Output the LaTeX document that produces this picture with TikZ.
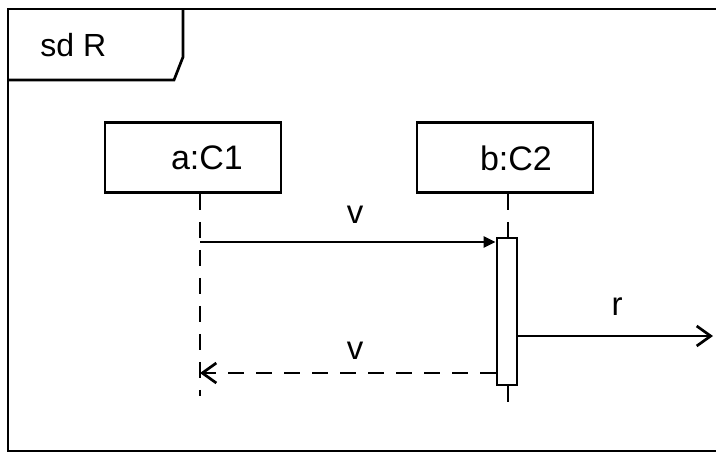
\documentclass[tikz,border=0pt]{standalone}
\usepackage{fontspec}
\setmainfont{Liberation Sans}
\usetikzlibrary{arrows.meta}
\begin{document}
\begin{tikzpicture}[x=1pt,y=-1pt,
  line width=2.7pt,
  lifebox/.style={draw, minimum width=176pt, minimum height=70pt, inner sep=0pt},
  boxtext/.style={font=\fontsize{34}{38}\selectfont, inner sep=0pt},
  lbl/.style={font=\fontsize{33}{37}\selectfont, inner sep=0pt},
  lifeline/.style={dash pattern=on 16pt off 12pt},
  call/.style={-{Triangle[length=12pt,width=11pt]}},
  reply/.style={dash pattern=on 16pt off 12pt, -{Straight Barb[length=14pt,width=20pt,line width=2.7pt]}},
  found/.style={-{Straight Barb[length=14pt,width=20pt,line width=2.7pt]}}]
\useasboundingbox (0,0) rectangle (716,453);
% frame
\draw (740,9) -- (8,9) -- (8,451) -- (740,451);
% tab
\draw (8,80) -- (174,80) -- (183,57) -- (183,9);
\node[lbl, anchor=west, font=\fontsize{32}{36}\selectfont] (title) at (39,45) {sd R};
% lifeline heads
\node[lifebox] (a) at (193,157.5) {};
\node[boxtext] (at) at (207,158) {a:C1};
\node[lifebox] (b) at (505,157.5) {};
\node[boxtext] (bt) at (516,158) {b:C2};
% lifeline coordinates
\coordinate (aend) at (200,396);
\coordinate (bend) at (508,402);
\node[draw, fill=white, minimum width=20pt, minimum height=147pt, inner sep=0pt] (act) at (507,311.5) {};
\draw[lifeline] (a.south -| aend) -- (aend);
\draw[lifeline] (b.south -| bend) -- (act.north -| bend);
\draw (act.south -| bend) -- (bend);
% messages
\coordinate (a1) at (200,242);
\draw[call] (a1) -- (a1 -| act.west);
\node[lbl] (v1) at (355,215) {v};
\coordinate (rend) at (713,336);
\draw[found] (rend -| act.east) -- (rend);
\node[lbl] (r) at (617,307) {r};
\coordinate (a2) at (200,373);
\draw[reply] (a2 -| act.west) -- (a2);
\node[lbl] (v2) at (355,351) {v};
\end{tikzpicture}
\end{document}
